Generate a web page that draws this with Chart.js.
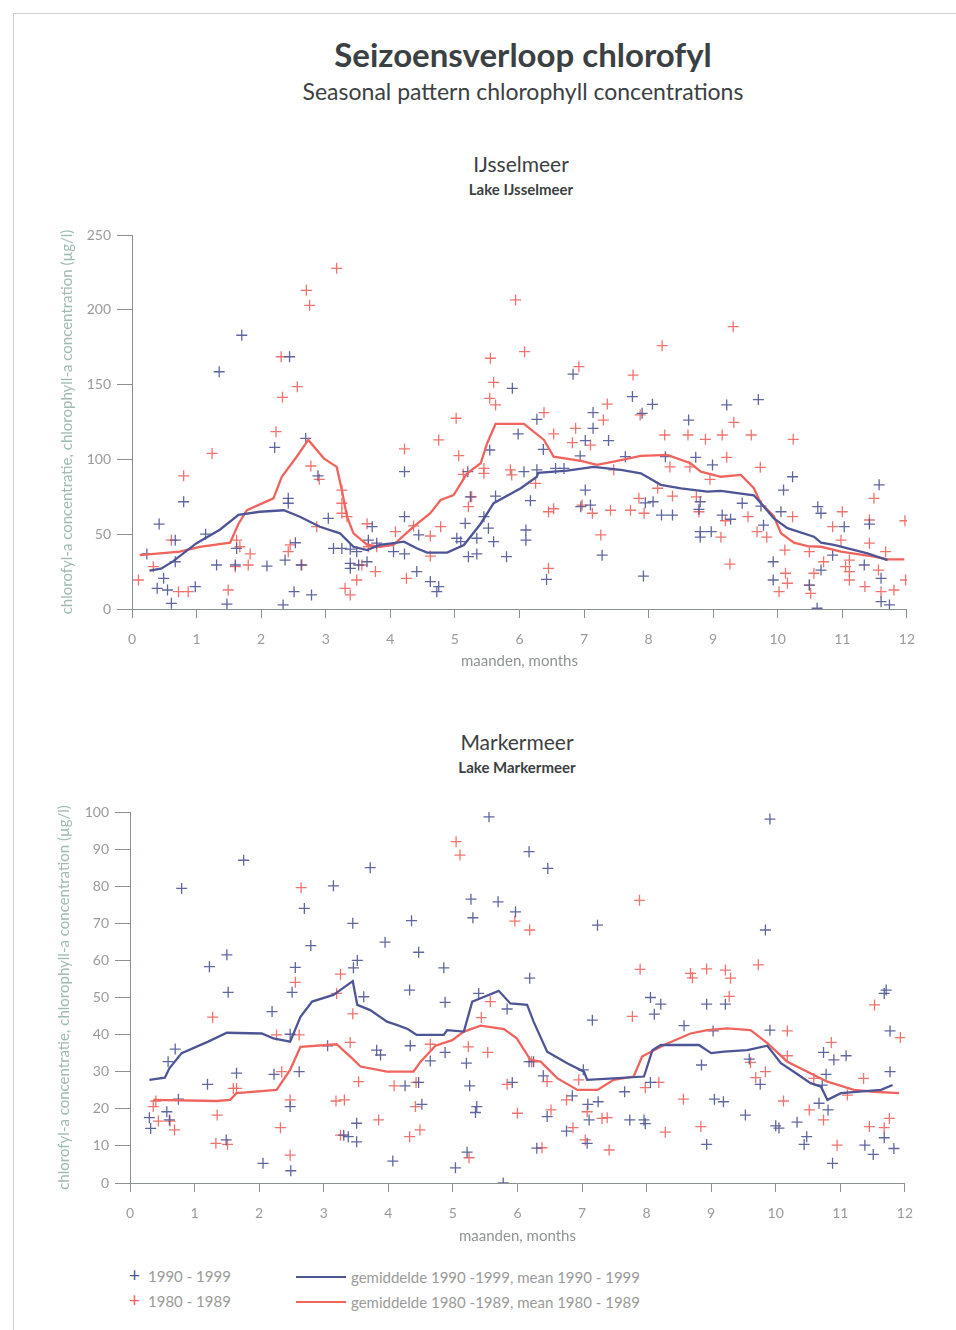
<!DOCTYPE html>
<html><head><meta charset="utf-8">
<script src="https://cdn.jsdelivr.net/npm/chart.js@4/dist/chart.umd.min.js"></script>
<style>
html,body{margin:0;padding:0;background:#fff;}
body{width:956px;height:1330px;position:relative;overflow:hidden;font-family:Lato,"Open Sans",sans-serif;}
.frame{position:absolute;left:13px;top:13px;width:960px;height:1330px;border-top:1px solid #cfcfcf;border-left:1px solid #cfcfcf;}
.t{position:absolute;left:0;width:1046px;text-align:center;color:#3b4142;white-space:nowrap;}
.cv{position:absolute;left:40px;height:465px;}
.leg{position:absolute;color:#9a9a9a;font-size:15px;white-space:nowrap;line-height:18px;}
.pl{position:absolute;font-size:19px;line-height:18px;}
.ln{position:absolute;height:2px;width:50px;}
</style></head>
<body>
<div class="frame"></div>
<div class="t" style="top:34px;font-size:33px;font-weight:700;">Seizoensverloop chlorofyl</div>
<div class="t" style="top:77px;font-size:23px;">Seasonal pattern chlorophyll concentrations</div>
<div class="t" style="top:151px;font-size:21px;left:-2px;">IJsselmeer</div>
<div class="t" style="top:180px;font-size:15px;font-weight:700;left:-2px;">Lake IJsselmeer</div>
<div class="t" style="top:729px;font-size:21px;left:-6px;">Markermeer</div>
<div class="t" style="top:758px;font-size:15px;font-weight:700;left:-6px;">Lake Markermeer</div>
<div class="cv" style="top:220px;width:888px;"><canvas id="c1" width="888" height="465"></canvas></div>
<div class="cv" style="top:795px;width:886px;"><canvas id="c2" width="886" height="465"></canvas></div>
<div class="pl" style="left:129px;top:1266px;color:#4e5596;">+</div>
<div class="pl" style="left:129px;top:1291px;color:#f0645e;">+</div>
<div class="leg" style="left:148px;top:1267px;">1990 - 1999</div>
<div class="leg" style="left:148px;top:1292px;">1980 - 1989</div>
<div class="ln" style="left:296px;top:1276px;background:#4e5596;"></div>
<div class="ln" style="left:296px;top:1301px;background:#f0645e;"></div>
<div class="leg" style="left:351px;top:1268px;">gemiddelde 1990 -1999, mean 1990 - 1999</div>
<div class="leg" style="left:351px;top:1293px;">gemiddelde 1980 -1989, mean 1980 - 1989</div>
<script>
const blue = '#4e5596';
const red = '#f0645e';
const monthTicks = [0,1,2,3,4,5,6,7,8,9,10,11,12];

// IJsselmeer: scatter samples [month, value]
const ijPoints9099 = [[0.23,36.8],[0.39,13.8],[0.42,56.8],[0.49,20.5],[0.55,12.7],[0.61,3.8],[0.67,46],[0.67,31.6],[0.80,71.7],[0.98,14.9],[1.14,50],[1.31,29.4],[1.35,158.6],[1.47,3.3],[1.60,29.4],[1.62,40.5],[1.70,183],[2.09,28.7],[2.21,108],[2.34,2.7],[2.37,32.7],[2.42,74],[2.42,70.7],[2.44,168.6],[2.51,11.6],[2.53,44.3],[2.62,29.4],[2.69,114],[2.78,9.4],[2.88,89],[3.04,60.6],[3.12,40.5],[3.25,40.5],[3.38,40],[3.48,38.3],[3.38,30.5],[3.38,27.2],[3.51,29.4],[3.64,31.6],[3.72,55],[3.66,46],[3.79,44],[4.05,38.3],[4.22,91.8],[4.22,61.7],[4.22,36.8],[4.41,25],[4.44,49.5],[4.62,18.3],[4.72,11.6],[4.75,15],[5.03,47.3],[5.09,45],[5.16,57.3],[5.20,91.8],[5.21,35],[5.24,75],[5.34,47.3],[5.34,36.8],[5.45,61.7],[5.52,54],[5.54,106.3],[5.60,45],[5.63,75.5],[5.80,35],[5.89,147.5],[5.98,117],[6.07,91.8],[6.10,52.8],[6.10,46],[6.17,72.4],[6.27,126.8],[6.27,93],[6.37,106.7],[6.42,19.8],[6.56,94],[6.69,94],[6.83,157],[6.94,102.3],[6.95,68.4],[7.02,112.6],[7.02,79.5],[7.10,69.5],[7.14,131.3],[7.14,120.8],[7.28,36],[7.38,112.6],[7.64,101.8],[7.75,142],[7.90,130.8],[7.92,22],[7.95,71],[8.07,71.7],[8.06,136.8],[8.20,62.8],[8.26,101.8],[8.37,62.8],[8.62,126.3],[8.73,101.4],[8.78,66.6],[8.80,71.7],[8.80,51.7],[8.80,48],[8.97,51.7],[8.99,96.3],[9.14,62.8],[9.21,136.4],[9.27,60],[9.45,70.7],[9.70,140],[9.74,68.8],[9.78,56],[9.93,31.6],[9.93,19.4],[10.05,65],[10.09,79.5],[10.23,88.4],[10.49,16],[10.61,0.5],[10.62,68.4],[10.67,64],[10.67,26],[10.85,36],[11.03,55],[11.34,29.4],[11.42,56.8],[11.57,83],[11.60,20.5],[11.60,4.9],[11.73,2.7]];
const ijPoints8089 = [[0.10,19.4],[0.33,28.3],[0.61,46],[0.72,11.6],[0.80,89],[0.87,11.6],[1.24,104],[1.49,12.7],[1.60,28.3],[1.62,46],[1.67,41.6],[1.80,29.4],[1.83,36.8],[2.23,118.5],[2.31,168.6],[2.33,141.5],[2.45,42.8],[2.42,38.3],[2.56,148.6],[2.63,29.4],[2.70,213],[2.75,203],[2.77,95.6],[2.86,55],[2.90,86.7],[3.17,227.7],[3.25,79.5],[3.25,70.7],[3.25,64],[3.33,61.7],[3.30,13.8],[3.38,9.4],[3.48,19.4],[3.56,29.4],[3.64,57],[3.66,41.6],[3.77,25],[3.79,41.6],[4.08,51.7],[4.22,107],[4.25,20.5],[4.36,55.5],[4.62,48.8],[4.62,35.4],[4.75,113],[4.78,55],[5.02,127.5],[5.06,102.5],[5.13,90],[5.21,68.4],[5.26,75],[5.45,94],[5.45,90.7],[5.54,140.8],[5.55,167.6],[5.60,151.5],[5.63,136.4],[5.86,93],[5.88,89.6],[5.94,206.6],[6.08,172],[6.25,84],[6.38,131.3],[6.45,65],[6.45,27.2],[6.53,117],[6.53,67],[6.82,111.2],[6.87,120.8],[6.92,162],[6.97,69.5],[7.10,109.6],[7.13,64],[7.26,49.5],[7.30,126.3],[7.36,137],[7.41,66],[7.46,93],[7.72,66],[7.76,156.4],[7.85,74],[7.87,129.7],[7.93,64],[8.14,80.7],[8.21,176],[8.25,116.3],[8.33,95],[8.37,75.5],[8.61,116.3],[8.64,95],[8.74,75],[8.78,65],[8.88,113.4],[8.95,86.7],[9.12,48],[9.14,116.3],[9.19,59],[9.21,101.4],[9.26,30],[9.31,188.7],[9.32,124.8],[9.54,61.7],[9.59,116.3],[9.68,51.7],[9.73,94.7],[9.83,48],[10.02,11.6],[10.11,39.4],[10.12,23.9],[10.15,17.2],[10.23,61.7],[10.24,113.4],[10.49,38.3],[10.49,16],[10.51,10.5],[10.56,23.9],[10.71,31.6],[10.85,55],[10.98,46],[11.0,65],[11.05,28.3],[11.11,32.7],[11.11,25],[11.11,19.4],[11.35,15],[11.42,59.5],[11.42,44],[11.49,74],[11.56,26],[11.60,11.6],[11.67,38.3],[11.80,12.7],[11.97,59],[11.98,19.4]];
// IJsselmeer: running means
const ijMean9099 = [[0.27,25.6],[0.45,27],[0.64,32],[1.0,44],[1.36,53],[1.65,63],[1.98,65],[2.35,66],[2.6,61.7],[2.91,55],[3.22,50.6],[3.43,41.6],[3.64,39.4],[3.84,42.8],[4.05,44],[4.21,45],[4.41,40.6],[4.57,37.7],[4.88,37.7],[5.14,42.8],[5.40,57],[5.60,70.7],[6.02,80.7],[6.27,88.4],[6.29,91],[6.74,92.5],[7.15,95],[7.57,93],[7.88,90.7],[8.19,83],[8.5,80.7],[8.91,78.4],[9.12,79],[9.63,76],[9.74,70.7],[9.94,60.6],[10.15,54],[10.56,48.3],[10.67,44.3],[10.87,42.8],[11.39,37.2],[11.70,32.7]];
const ijMean8089 = [[0.12,36],[0.74,38.3],[1.05,41.6],[1.52,44.3],[1.65,57],[1.78,66],[2.19,74],[2.32,88.4],[2.55,101.8],[2.73,113],[2.97,100.7],[3.17,95],[3.25,79.5],[3.33,61.7],[3.43,50.6],[3.64,43],[3.84,41.6],[4.05,42.8],[4.36,55],[4.62,64],[4.78,72.9],[4.98,76.2],[5.19,90.7],[5.40,97.4],[5.50,110.8],[5.63,123.7],[6.07,123.7],[6.38,113],[6.53,101.8],[6.95,99],[7.20,96.3],[7.46,98.5],[7.88,102.3],[8.29,103],[8.65,97.4],[8.81,91.8],[9.12,88.4],[9.43,89.6],[9.63,80.7],[9.74,70.7],[9.94,62],[10.05,50.6],[10.25,44.3],[10.46,42],[10.67,41.6],[10.98,38.3],[11.49,35],[11.70,33.2],[11.96,33.2]];
const ijYTicks = [0,50,100,150,200,250];

// Markermeer: scatter samples [month, value]
const mmPoints9099 = [[0.30,17.6],[0.32,14.7],[0.57,19.2],[0.59,32.7],[0.61,17],[0.70,36.1],[0.75,22.6],[0.80,79.4],[1.20,26.6],[1.23,58.3],[1.49,11.6],[1.50,61.5],[1.52,51.4],[1.65,29.6],[1.76,87],[2.06,5.3],[2.20,46.2],[2.23,29.3],[2.48,40.1],[2.48,20.6],[2.49,3.3],[2.51,51.4],[2.56,58.1],[2.62,30],[2.70,74],[2.80,64],[3.06,37],[3.15,80.1],[3.31,12.9],[3.38,12.5],[3.45,70],[3.46,58],[3.51,16.1],[3.51,11.1],[3.52,60],[3.62,50.2],[3.72,85],[3.82,35.8],[3.88,34.5],[3.95,64.9],[4.07,5.9],[4.26,26.2],[4.33,52],[4.34,37],[4.36,70.7],[4.47,62.2],[4.47,27.1],[4.52,21.2],[4.65,32.9],[4.86,58],[4.88,48.7],[4.88,35.2],[5.04,4.1],[5.21,32.3],[5.22,8.3],[5.26,26.2],[5.28,76.5],[5.31,71.5],[5.35,19],[5.37,20.6],[5.40,51.1],[5.56,98.7],[5.70,75.8],[5.78,0],[5.84,46.9],[5.92,27.1],[5.97,73.1],[6.18,89.3],[6.18,32.7],[6.19,55.2],[6.25,32.7],[6.30,9.4],[6.40,28.9],[6.46,17.9],[6.47,84.8],[6.76,14],[6.85,23.5],[7.02,30.5],[7.08,10.7],[7.09,21.2],[7.11,17],[7.24,69.5],[7.16,43.9],[7.25,21.9],[7.66,24.6],[7.74,17],[7.96,17],[7.98,16],[8.06,50],[8.06,27.1],[8.12,45.5],[8.22,48.2],[8.58,42.4],[8.85,31.8],[8.93,48.2],[8.93,10.4],[9.03,41],[9.05,22.6],[9.19,21.9],[9.22,48.2],[9.53,18.3],[9.59,33.4],[9.76,26.6],[9.84,68.2],[9.91,98.1],[9.91,41.2],[10.0,15.4],[10.05,14.8],[10.33,16.4],[10.44,10.4],[10.48,12.5],[10.67,21.5],[10.72,26.4],[10.74,35.2],[10.78,29.3],[10.81,19.7],[10.88,5.3],[10.90,33.2],[11.09,34.3],[11.38,10.2],[11.51,7.7],[11.68,12.2],[11.68,51.1],[11.71,52],[11.77,41],[11.77,30],[11.83,9.3]];
const mmPoints8089 = [[0.36,20.6],[0.40,22.1],[0.44,16.7],[0.62,16.7],[0.69,14.3],[1.28,44.7],[1.33,10.7],[1.35,18.3],[1.51,10.4],[1.60,25.5],[1.65,25.5],[2.27,39.9],[2.33,14.9],[2.35,30],[2.48,22.4],[2.48,7.5],[2.56,54.1],[2.62,39.9],[2.65,79.6],[3.19,22.1],[3.20,51.1],[3.26,56.3],[3.26,12.9],[3.32,22.4],[3.41,37.9],[3.45,45.6],[3.54,27.3],[3.85,17],[4.09,26.2],[4.33,12.5],[4.42,20.6],[4.43,27.1],[4.49,14.3],[4.65,37.4],[5.05,92],[5.11,88.4],[5.24,36.7],[5.25,6.8],[5.44,44.6],[5.54,35.2],[5.58,48.9],[5.84,26.6],[5.96,70.6],[6.0,18.8],[6.19,68.2],[6.22,32.7],[6.38,9.5],[6.46,27.3],[6.52,19.7],[6.76,22.4],[6.86,14.9],[6.95,27.8],[7.05,11.6],[7.08,19.2],[7.31,17.4],[7.39,17.6],[7.42,8.9],[7.78,44.9],[7.89,76.2],[7.90,57.6],[7.98,25.7],[8.19,27.1],[8.29,13.7],[8.57,22.6],[8.68,56.5],[8.71,55.3],[8.84,15.2],[8.93,57.7],[9.22,57.4],[9.28,50.3],[9.30,55.2],[9.61,32.5],[9.69,28.4],[9.73,58.8],[9.84,30],[10.12,22.1],[10.18,41],[10.18,34.3],[10.52,19.7],[10.59,28.2],[10.74,17],[10.86,37.9],[10.95,10.2],[11.11,23.7],[11.36,28.2],[11.45,15.2],[11.53,48],[11.68,14.9],[11.76,17.4],[11.93,39.2]];
// Markermeer: running means
const mmMean9099 = [[0.30,27.8],[0.54,28.4],[0.61,30.9],[0.80,35],[1.21,38.1],[1.50,40.5],[2.04,40.3],[2.22,39],[2.48,38.1],[2.64,44.8],[2.82,48.9],[3.15,50.7],[3.45,54.4],[3.52,48],[3.72,46.6],[3.98,43.5],[4.13,42.6],[4.30,41.5],[4.44,39.9],[4.86,39.9],[4.91,41.2],[5.17,40.8],[5.30,48.9],[5.43,49.8],[5.71,51.8],[5.89,48.4],[6.15,48],[6.25,43.5],[6.46,35.4],[6.77,32.3],[7.03,30],[7.08,27.8],[7.49,28.2],[7.96,28.7],[8.09,35.8],[8.22,37.2],[8.81,37.2],[9.0,35],[9.2,35.4],[9.56,35.8],[9.87,37],[10.08,32.3],[10.28,30],[10.54,26.9],[10.70,26],[10.80,22.4],[11.01,24.2],[11.63,25.1],[11.81,26.4]];
const mmMean8089 = [[0.36,22.4],[1.34,22.1],[1.55,22.4],[1.65,24.2],[2.27,25.1],[2.48,30.5],[2.64,36.7],[3.20,37.4],[3.44,33.6],[3.57,31.4],[3.98,30],[4.39,30],[4.50,32.7],[4.73,37],[4.99,38.5],[5.17,40.8],[5.43,42.4],[5.79,41.5],[5.99,39],[6.20,33.2],[6.36,32.7],[6.62,28.2],[6.93,25.1],[7.24,25.1],[7.49,27.8],[7.80,28.7],[7.93,34.1],[8.27,37.2],[8.68,40.3],[8.94,41.2],[9.25,41.7],[9.61,41.2],[9.87,37.7],[10.18,32.7],[10.49,30],[10.80,27.3],[11.21,25.1],[11.52,24.6],[11.91,24.2]];
const mmYTicks = [0,10,20,30,40,50,60,70,80,90,100];

const yTitle = 'chlorofyl-a concentratie, chlorophyll-a concentration (\u00b5g/l)';
const xTitle = 'maanden, months';

Chart.defaults.font.family = 'Lato, "Open Sans", sans-serif';
Chart.defaults.animation = false;

function xy(arr){ return arr.map(p => ({x:p[0], y:p[1]})); }

function makeChart(id, pts9099, pts8089, mean9099, mean8089, yTicks, opt){
  const yMax = yTicks[yTicks.length-1];
  const step = yTicks[1]-yTicks[0];
  new Chart(document.getElementById(id), {
    type: 'scatter',
    data: { datasets: [
      {data: xy(mean9099), showLine:true, borderColor:blue, borderWidth:2.3, pointRadius:0, order:0},
      {data: xy(mean8089), showLine:true, borderColor:red, borderWidth:2.3, pointRadius:0, order:0},
      {data: xy(pts9099), pointStyle:'cross', pointRadius:5.5, borderColor:'rgba(78,85,150,0.9)', borderWidth:1.3, order:1},
      {data: xy(pts8089), pointStyle:'cross', pointRadius:5.5, borderColor:'rgba(240,100,94,0.9)', borderWidth:1.3, order:1}
    ]},
    options: {
      responsive:false, maintainAspectRatio:false,
      layout:{autoPadding:false, padding:{top:opt.padTop, right:0, left:0, bottom:0}},
      plugins:{legend:{display:false}, tooltip:{enabled:false}},
      scales:{
        x:{type:'linear', min:0, max:12,
          afterBuildTicks: s => { s.ticks = monthTicks.map(v => ({value:v})); },
          afterFit: s => { s.height = opt.xHeight; },
          grid:{drawOnChartArea:false, drawTicks:true, tickLength:9, color:'#8a8f8f', lineWidth:1},
          border:{display:true, color:'#8a8f8f', width:1},
          ticks:{color:'#9a9a9a', font:{size:14}, padding:13, maxRotation:0},
          title:{display:true, text:xTitle, color:'#8f9494', font:{size:15}, padding:{top:opt.xTitlePad, bottom:opt.xTitlePad}}
        },
        y:{type:'linear', min:0, max:yMax,
          afterBuildTicks: s => { s.ticks = yTicks.map(v => ({value:v})); },
          afterFit: s => { s.width = opt.yWidth; },
          grid:{drawOnChartArea:false, drawTicks:true, tickLength:15, color:'#8a8f8f', lineWidth:1},
          border:{display:true, color:'#8a8f8f', width:1},
          ticks:{color:'#9a9a9a', font:{size:14}, padding:6, stepSize:step},
          title:{display:true, text:yTitle, color:'#9fbab3', font:{size:15}, padding:{top:opt.yTitlePad, bottom:opt.yTitlePad}}
        }
      }
    }
  });
}

makeChart('c1', ijPoints9099, ijPoints8089, ijMean9099, ijMean8089, ijYTicks,
  {padTop:15, xHeight:76, yWidth:92, xTitlePad:15, yTitlePad:18});
makeChart('c2', mmPoints9099, mmPoints8089, mmMean9099, mmMean8089, mmYTicks,
  {padTop:17, xHeight:77, yWidth:90, xTitlePad:15, yTitlePad:15});
</script>
</body></html>
